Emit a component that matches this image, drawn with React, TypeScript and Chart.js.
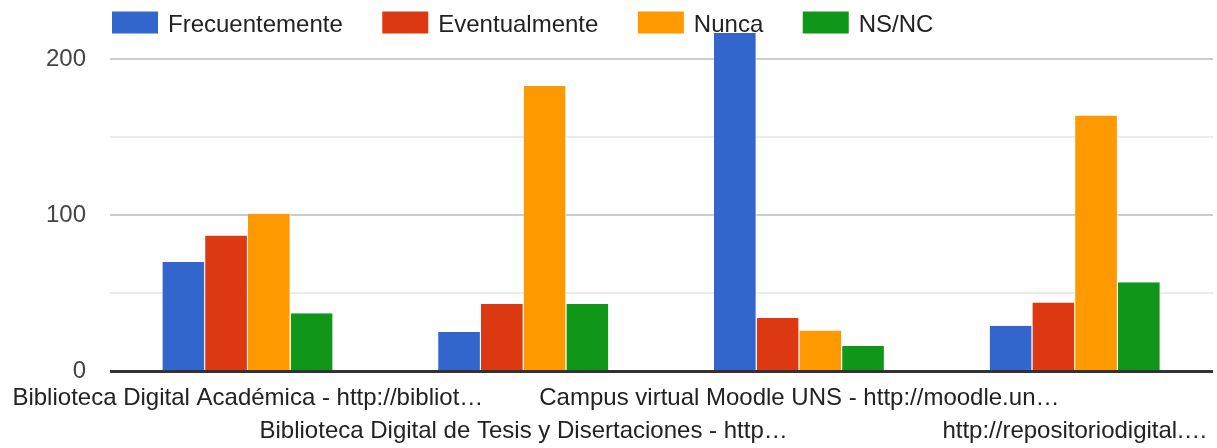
import React, { useEffect, useRef } from 'react';
import { Chart, registerables } from 'chart.js';

Chart.register(...registerables);

const categories = [
  'Biblioteca Digital Académica - http://bibliot…',
  'Biblioteca Digital de Tesis y Disertaciones - http…',
  'Campus virtual Moodle UNS - http://moodle.un…',
  'http://repositoriodigital.…',
];
const seriesNames = ['Frecuentemente', 'Eventualmente', 'Nunca', 'NS/NC'];
const frecuentemente = [70, 25, 217, 29];
const eventualmente = [87, 43, 34, 44];
const nunca = [101, 183, 26, 164];
const nsnc = [37, 43, 16, 57];
const seriesColors = ['#3366cc', '#dc3912', '#ff9900', '#109618'];
const yTickValues = [0, 50, 100, 150, 200];
const yLabeledTicks = [0, 100, 200];
const yMax = 217;

const FONT = '"Liberation Sans", Arial, sans-serif';

const legendPlugin = {
  id: 'gLegend',
  afterDraw(chart: any) {
    const ctx = chart.ctx;
    ctx.save();
    ctx.font = `24px ${FONT}`;
    ctx.textBaseline = 'alphabetic';
    ctx.textAlign = 'left';
    let x = chart.chartArea.left + 2;
    chart.data.datasets.forEach((ds: any) => {
      ctx.fillStyle = ds.backgroundColor;
      ctx.fillRect(x, 11.5, 46, 22);
      ctx.fillStyle = '#222222';
      ctx.fillText(ds.label, x + 56, 31.7);
      x += 56 + ctx.measureText(ds.label).width + 39.5;
    });
    ctx.restore();
  },
};

const baselinePlugin = {
  id: 'gBaseline',
  afterDatasetsDraw(chart: any) {
    const ctx = chart.ctx;
    const y = chart.scales.y.getPixelForValue(0);
    ctx.save();
    ctx.strokeStyle = '#333333';
    ctx.lineWidth = 3;
    ctx.beginPath();
    ctx.moveTo(chart.chartArea.left, y + 0.5);
    ctx.lineTo(chart.chartArea.right, y + 0.5);
    ctx.stroke();
    ctx.restore();
  },
};

export default function App() {
  const ref = useRef<HTMLCanvasElement>(null);

  useEffect(() => {
    if (!ref.current) return;
    Chart.defaults.font.family = FONT;
    const values = [frecuentemente, eventualmente, nunca, nsnc];
    const chart = new Chart(ref.current, {
      type: 'bar',
      data: {
        labels: categories,
        datasets: seriesNames.map((name, i) => ({
          label: name,
          data: values[i],
          backgroundColor: seriesColors[i],
          borderColor: '#ffffff',
          borderWidth: { top: 0, left: 0, bottom: 0, right: 1 },
          borderSkipped: false,
          inflateAmount: 0,
          categoryPercentage: 0.62,
          barPercentage: 1,
        })),
      },
      options: {
        animation: false,
        responsive: false,
        devicePixelRatio: 1,
        layout: { padding: { top: 33, right: 4, left: 0, bottom: 0 } },
        plugins: {
          legend: { display: false },
          tooltip: { enabled: false },
        },
        scales: {
          x: {
            grid: { display: false, drawTicks: false },
            border: { display: false },
            ticks: {
              autoSkip: false,
              maxRotation: 0,
              minRotation: 0,
              padding: 11,
              color: '#222222',
              font: { size: 24, lineHeight: 1.36 },
              callback: (_v: any, i: number) =>
                i % 2 === 0 ? [categories[i]] : ['', categories[i]],
            },
            afterFit: (scale: any) => {
              scale.height = 77;
              scale.paddingLeft = 0;
              scale.paddingRight = 0;
            },
          },
          y: {
            min: 0,
            max: yMax,
            grid: {
              drawTicks: false,
              lineWidth: 2,
              color: (c: any) => {
                const v = c.tick ? c.tick.value : 0;
                if (v === 0) return 'rgba(0,0,0,0)';
                return yLabeledTicks.includes(v) ? '#cccccc' : '#ebebeb';
              },
            },
            border: { display: false },
            afterBuildTicks: (axis: any) => {
              axis.ticks = yTickValues.map((v) => ({ value: v }));
            },
            afterFit: (scale: any) => {
              scale.width = 110;
              scale.paddingTop = 0;
              scale.paddingBottom = 0;
            },
            ticks: {
              padding: 24,
              color: '#444444',
              font: { size: 24 },
              callback: (v: any) => (yLabeledTicks.includes(Number(v)) ? String(v) : ''),
            },
          },
        },
      },
      plugins: [baselinePlugin, legendPlugin],
    });
    return () => chart.destroy();
  }, []);

  return (
    <div style={{ position: 'absolute', left: 0, top: 0, width: 1217, height: 448, background: '#ffffff' }}>
      <canvas ref={ref} width={1217} height={448} />
    </div>
  );
}
